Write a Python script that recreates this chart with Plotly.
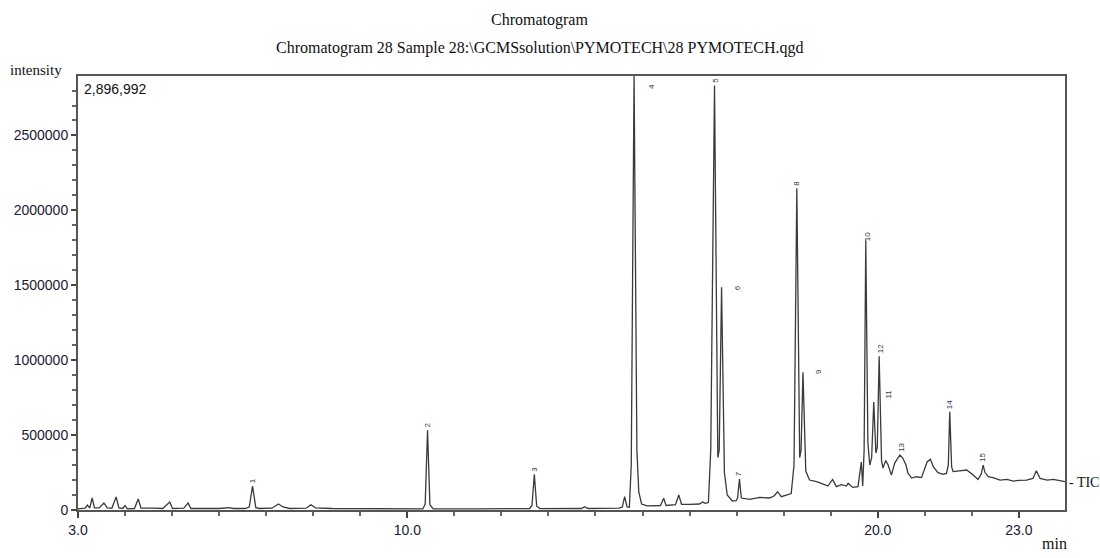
import plotly.graph_objects as go

# Retention time (min) and intensity vertices of the TIC trace
rt_min = [
    3.00, 3.06, 3.15, 3.20, 3.25, 3.30, 3.35, 3.45, 3.55, 3.62, 3.72, 3.81, 3.87, 3.95, 4.00, 4.05,
    4.20, 4.28, 4.34, 4.60, 4.80, 4.95, 5.01, 5.25, 5.34, 5.40, 6.00, 6.21, 6.30, 6.55, 6.64, 6.71,
    6.78, 6.85, 7.12, 7.26, 7.36, 7.50, 7.85, 7.95, 8.05, 8.40, 9.00, 10.00, 10.33, 10.38, 10.43, 10.48,
    10.55, 11.50, 12.60, 12.65, 12.70, 12.75, 12.82, 13.70, 13.77, 13.84, 14.50, 14.57, 14.62, 14.67,
    14.72, 14.76, 14.82, 14.88, 14.92, 14.98, 15.10, 15.38, 15.45, 15.50, 15.60, 15.70, 15.77, 15.83,
    16.00, 16.21, 16.28, 16.33, 16.40, 16.45, 16.53, 16.60, 16.63, 16.68, 16.74, 16.80, 16.91, 16.99,
    17.02, 17.06, 17.10, 17.28, 17.49, 17.70, 17.80, 17.87, 17.95, 18.05, 18.16, 18.22, 18.28, 18.34,
    18.37, 18.41, 18.47, 18.55, 18.70, 18.84, 18.94, 19.04, 19.12, 19.23, 19.33, 19.37, 19.47, 19.58,
    19.65, 19.68, 19.71, 19.745, 19.79, 19.83, 19.87, 19.915, 19.96, 19.99, 20.03, 20.08, 20.11, 20.17,
    20.22, 20.29, 20.36, 20.47, 20.53, 20.60, 20.64, 20.72, 20.82, 20.93, 21.00, 21.05, 21.12, 21.18,
    21.28, 21.39, 21.46, 21.50, 21.53, 21.57, 21.60, 21.74, 21.89, 22.03, 22.13, 22.20, 22.24, 22.28,
    22.35, 22.45, 22.60, 22.75, 22.88, 23.00, 23.16, 23.30, 23.37, 23.45, 23.60, 23.73, 23.90, 23.98,
]
intensity = [
    8000, 10000, 12000, 33000, 12000, 80000, 15000, 14000, 47000, 14000, 12000, 87000, 14000, 10000, 30000, 8000,
    10000, 73000, 12000, 12000, 10000, 53000, 10000, 12000, 47000, 10000, 10000, 16000, 10000, 10000, 20000, 160000,
    15000, 10000, 12000, 40000, 20000, 10000, 12000, 35000, 14000, 10000, 8000, 6000, 7000, 40000, 533000, 35000,
    8000, 8000, 10000, 30000, 238000, 25000, 9000, 10000, 22000, 10000, 12000, 20000, 89000, 20000,
    18000, 300000, 2896992, 400000, 120000, 40000, 27000, 30000, 78000, 30000, 35000, 35000, 100000, 38000,
    38000, 40000, 53000, 45000, 50000, 400000, 2833000, 350000, 400000, 1487000, 250000, 100000, 60000, 62000,
    80000, 207000, 80000, 71000, 84000, 80000, 95000, 122000, 89000, 100000, 110000, 300000, 2147000, 350000,
    400000, 920000, 260000, 200000, 189000, 173000, 160000, 204000, 156000, 169000, 160000, 178000, 151000, 156000,
    320000, 160000, 400000, 1800000, 450000, 300000, 350000, 720000, 380000, 420000, 1027000, 330000, 280000, 330000,
    300000, 233000, 313000, 367000, 347000, 300000, 247000, 213000, 222000, 216000, 278000, 322000, 338000, 289000,
    249000, 238000, 244000, 300000, 655000, 290000, 256000, 262000, 267000, 233000, 204000, 240000, 300000, 250000,
    222000, 216000, 200000, 205000, 193000, 198000, 200000, 211000, 262000, 211000, 200000, 204000, 192000, 189000,
]

# Peak number labels and where their lower ends sit
peak_labels = ["1", "2", "3", "4", "5", "6", "7", "8", "9", "10", "11", "12", "13", "14", "15"]
label_rt = [6.71, 10.43, 12.70, 15.18, 16.55, 17.02, 17.03, 18.28, 18.75, 19.77, 20.22, 20.06, 20.50, 21.53, 22.24]
label_int = [172000, 545000, 248000, 2800000, 2845000, 1460000, 215000, 2160000, 905000, 1790000, 735000, 1040000, 380000, 668000, 312000]

x_tick_vals = [3, 10, 20, 23]
x_tick_text = ["3.0", "10.0", "20.0", "23.0"]
y_tick_vals = [0, 500000, 1000000, 1500000, 2000000, 2500000]
y_tick_text = ["0", "500000", "1000000", "1500000", "2000000", "2500000"]
y_max = 2896992

fig = go.Figure()
fig.add_trace(go.Scatter(x=rt_min, y=intensity, mode="lines",
                         line=dict(color="#3a3a3a", width=1.3), hoverinfo="skip", showlegend=False))

serif = "Liberation Serif, Times New Roman, serif"
sans = "Liberation Sans, Arial, sans-serif"

annotations = []
for t, xv, yv in zip(peak_labels, label_rt, label_int):
    annotations.append(dict(x=xv, y=yv, xref="x", yref="y", text=t, showarrow=False,
                            textangle=-90, font=dict(family=sans, size=8, color="#333355"),
                            yanchor="bottom", xanchor="center", borderpad=0))

annotations += [
    dict(text="Chromatogram", xref="paper", yref="paper", x=0.468, y=1.129, showarrow=False,
         font=dict(family=serif, size=16, color="#111"), xanchor="center", yanchor="middle"),
    dict(text="Chromatogram 28 Sample 28:\\GCMSsolution\\PYMOTECH\\28 PYMOTECH.qgd", xref="paper", yref="paper",
         x=0.468, y=1.0645, showarrow=False, font=dict(family=serif, size=16, color="#111"),
         xanchor="center", yanchor="middle"),
    dict(text="intensity", xref="paper", yref="paper", x=-0.071, y=1.014, showarrow=False,
         font=dict(family=serif, size=15, color="#111"), xanchor="left", yanchor="middle"),
    dict(text="2,896,992", xref="paper", yref="paper", x=0.004, y=0.970, showarrow=False,
         font=dict(family=sans, size=14, color="#111"), xanchor="left", yanchor="middle"),
    dict(text="min", xref="paper", yref="paper", x=0.989, y=-0.078, showarrow=False,
         font=dict(family=serif, size=16, color="#111"), xanchor="center", yanchor="middle"),
    dict(text="- TIC", xref="paper", yref="y", x=1.002, y=183000, showarrow=False,
         font=dict(family=serif, size=14, color="#111"), xanchor="left", yanchor="middle"),
]

fig.update_layout(
    width=1100, height=558,
    margin=dict(l=78, r=35, t=76, b=48),
    plot_bgcolor="white", paper_bgcolor="white",
    annotations=annotations,
    xaxis=dict(range=[3.0, 23.98], tickmode="array", tickvals=x_tick_vals, ticktext=x_tick_text,
               ticks="outside", ticklen=6, tickcolor="#444", tickwidth=1.5,
               minor=dict(dtick=1, tick0=3, ticks="outside", ticklen=4, tickcolor="#666", showgrid=False),
               showline=True, linecolor="#555", linewidth=2, mirror=True,
               showgrid=False, zeroline=False,
               tickfont=dict(family=sans, size=14, color="#1a1a33")),
    yaxis=dict(range=[0, y_max], tickmode="array", tickvals=y_tick_vals, ticktext=y_tick_text,
               ticks="outside", ticklen=5, tickcolor="#444", tickwidth=1.5,
               minor=dict(dtick=100000, tick0=0, ticks="outside", ticklen=4, tickcolor="#666", showgrid=False),
               showline=True, linecolor="#555", linewidth=2, mirror=True,
               showgrid=False, zeroline=False,
               tickfont=dict(family=sans, size=14, color="#1a1a33")),
)

fig.write_html("out.html")
